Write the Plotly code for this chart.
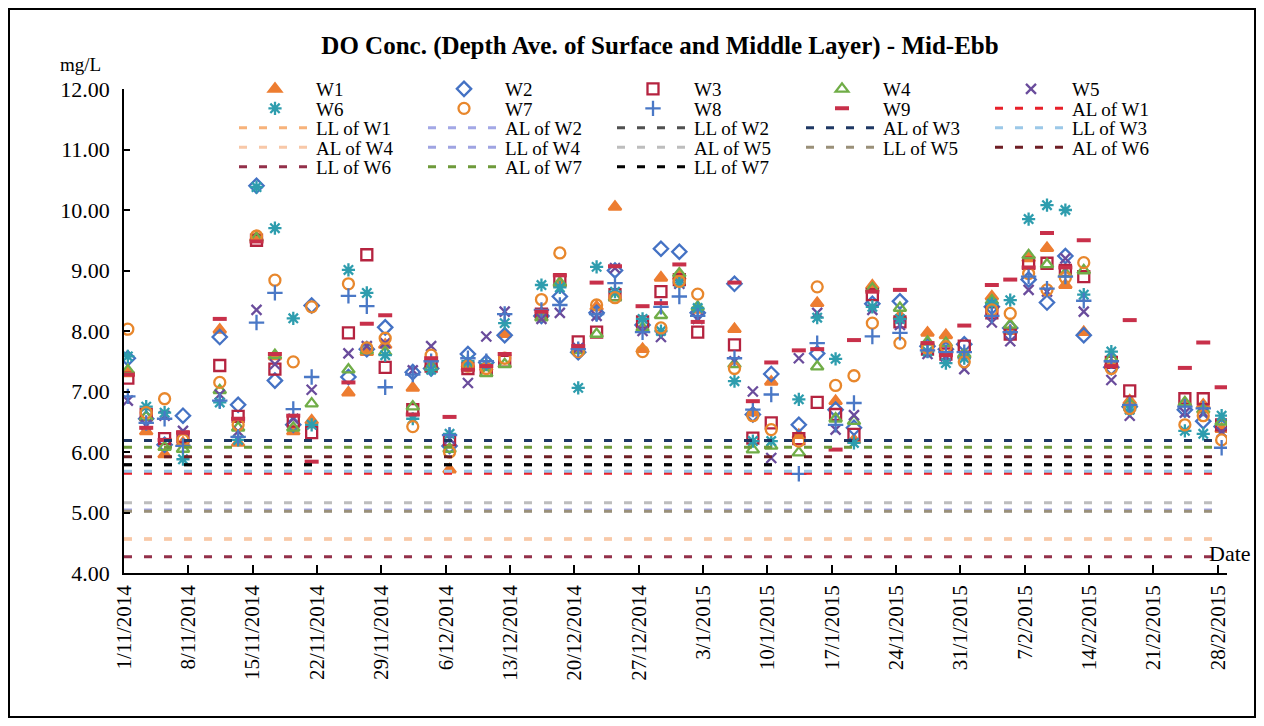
import plotly.graph_objects as go
from datetime import datetime, timedelta

# ---------------- DATA ----------------
sample_dates = [
    "2014-11-01", "2014-11-03", "2014-11-05", "2014-11-07", "2014-11-11", "2014-11-13",
    "2014-11-15", "2014-11-17", "2014-11-19", "2014-11-21", "2014-11-25", "2014-11-27",
    "2014-11-29", "2014-12-02", "2014-12-04", "2014-12-06", "2014-12-08", "2014-12-10",
    "2014-12-12", "2014-12-16", "2014-12-18", "2014-12-20", "2014-12-22", "2014-12-24",
    "2014-12-27", "2014-12-29", "2014-12-31", "2015-01-02", "2015-01-06", "2015-01-08",
    "2015-01-10", "2015-01-13", "2015-01-15", "2015-01-17", "2015-01-19", "2015-01-21",
    "2015-01-24", "2015-01-27", "2015-01-29", "2015-01-31", "2015-02-03", "2015-02-05",
    "2015-02-07", "2015-02-09", "2015-02-11", "2015-02-13", "2015-02-16", "2015-02-18",
    "2015-02-24", "2015-02-26", "2015-02-28",
]
sample_time = "10:00"

W1 = [7.30, 6.34, 5.96, 6.15, 8.02, 6.15, 9.55, 7.58, 6.34, 6.52, 6.98, 7.65, 7.77, 7.06, 7.45, 5.71, 7.45,
      7.40, 7.95, 8.30, 8.78, 7.70, 8.40, 10.05, 7.70, 8.88, 8.90, 8.35, 8.03, 6.65, 7.16, 6.28, 8.46, 6.84,
      6.20, 8.75, 8.25, 7.97, 7.93, 7.60, 8.57, 8.00, 9.20, 9.37, 8.76, 7.98, 7.45, 6.85, 6.80, 6.78, 6.38]
W2 = [7.55, 6.55, 6.12, 6.60, 7.90, 6.78, 10.40, 7.18, 6.45, 8.42, 7.24, 7.70, 8.06, 7.32, 7.38, 6.10, 7.62,
      7.48, 7.93, 8.25, 8.57, 7.65, 8.30, 9.00, 8.10, 9.36, 9.31, 8.30, 8.78, 6.62, 7.29, 6.45, 7.63, 6.70,
      6.40, 8.45, 8.49, 7.75, 7.70, 7.78, 8.40, 8.05, 8.85, 8.47, 9.24, 7.93, 7.40, 6.75, 6.70, 6.51, 6.42]
W3 = [7.22, 6.62, 6.22, 6.25, 7.43, 6.59, 9.50, 7.37, 6.51, 6.32, 7.97, 9.26, 7.40, 6.70, 7.42, 6.20, 7.38,
      7.35, 7.50, 8.28, 8.85, 7.82, 7.98, 8.60, 8.15, 8.65, 8.85, 7.98, 7.77, 6.23, 6.48, 6.22, 6.82, 6.62,
      6.29, 8.60, 8.15, 7.70, 7.62, 7.75, 8.30, 7.95, 9.12, 9.12, 9.00, 8.90, 7.48, 7.01, 6.88, 6.88, 6.45]
W4 = [7.35, 6.58, 6.08, 6.05, 7.02, 6.40, 9.53, 7.60, 6.40, 6.80, 7.36, 7.68, 7.65, 6.75, 7.40, 6.05, 7.40,
      7.30, 7.45, 8.22, 8.80, 7.68, 7.95, 8.55, 8.05, 8.26, 8.95, 8.40, 7.45, 6.04, 6.10, 5.99, 7.41, 6.55,
      6.51, 8.70, 8.38, 7.82, 7.80, 7.62, 8.50, 8.10, 9.25, 9.10, 8.95, 9.00, 7.55, 6.80, 6.82, 6.70, 6.50]
W5 = [6.85, 6.45, 6.60, 6.35, 6.95, 6.34, 8.35, 7.45, 6.55, 7.03, 7.63, 7.75, 7.80, 7.35, 7.75, 6.22, 7.14,
      7.91, 8.32, 8.20, 8.30, 7.72, 8.25, 9.04, 8.00, 7.90, 8.78, 8.20, 7.50, 7.00, 5.90, 7.55, 8.30, 6.37,
      6.61, 8.35, 8.10, 7.62, 7.58, 7.37, 8.14, 7.83, 8.68, 8.65, 9.20, 8.32, 7.19, 6.60, 6.65, 6.65, 6.33]
W6 = [7.58, 6.75, 6.65, 5.88, 6.82, 6.20, 10.38, 9.70, 8.21, 6.45, 9.01, 8.63, 7.60, 6.55, 7.36, 6.30, 7.50,
      7.45, 8.13, 8.76, 8.72, 7.06, 9.06, 8.65, 8.20, 8.00, 8.80, 8.38, 7.17, 6.18, 6.18, 6.87, 8.22, 7.54,
      6.15, 8.40, 8.20, 7.66, 7.47, 7.55, 8.45, 8.51, 9.85, 10.08, 10.00, 8.60, 7.66, 6.70, 6.35, 6.30, 6.60]
W7 = [8.03, 6.65, 6.88, 6.20, 7.15, 6.45, 9.57, 8.84, 7.49, 8.40, 8.78, 7.72, 7.88, 6.42, 7.60, 6.00, 7.42,
      7.38, 7.55, 8.52, 9.29, 7.66, 8.43, 8.55, 7.66, 8.05, 8.82, 8.61, 7.38, 6.60, 6.37, 6.18, 8.73, 7.10,
      7.26, 8.13, 7.80, 7.72, 7.74, 7.49, 8.35, 8.29, 8.95, 8.68, 8.88, 9.13, 7.38, 6.72, 6.45, 6.60, 6.20]
W8 = [6.92, 6.48, 6.55, 6.10, 6.85, 6.25, 8.14, 8.63, 6.71, 7.24, 8.58, 8.41, 7.07, 7.28, 7.50, 6.28, 7.55,
      7.50, 8.28, 8.35, 8.43, 7.70, 8.28, 8.79, 7.98, 8.40, 8.57, 8.25, 7.55, 6.70, 6.95, 5.64, 7.80, 6.45,
      6.81, 7.91, 7.97, 7.68, 7.65, 7.65, 8.25, 7.98, 8.90, 8.70, 8.90, 8.50, 7.50, 6.78, 6.75, 6.72, 6.07]
W9 = [7.28, 6.40, 6.20, 6.32, 8.20, 6.55, 9.48, 7.62, 6.60, 5.84, 7.15, 8.12, 8.26, 6.62, 7.55, 6.58, 7.36,
      7.42, 7.62, 8.32, 8.92, 7.75, 8.80, 9.07, 8.41, 8.46, 9.10, 8.15, 8.80, 6.84, 7.48, 7.68, 7.70, 6.04,
      7.85, 8.65, 8.68, 7.80, 7.60, 8.09, 8.76, 8.85, 9.05, 9.62, 9.05, 9.50, 7.42, 8.18, 7.39, 7.81, 7.07]

station_names = ["W1", "W2", "W3", "W4", "W5", "W6", "W7", "W8", "W9"]
station_values = [W1, W2, W3, W4, W5, W6, W7, W8, W9]

level_names = ["AL of W1", "LL of W1", "AL of W2", "LL of W2", "AL of W3", "LL of W3", "AL of W4",
               "LL of W4", "AL of W5", "LL of W5", "AL of W6", "LL of W6", "AL of W7", "LL of W7"]
level_values = [5.65, 4.56, 5.04, 5.79, 6.19, 5.68, 4.56, 5.03, 5.16, 5.02, 5.92, 4.27, 6.08, 5.79]

tick_start = "2014-11-01"
tick_count = 18
tick_step_days = 7

title_text = "DO Conc. (Depth Ave. of Surface and Middle Layer) - Mid-Ebb"

# ---------------- STYLE ----------------
FONT = "Liberation Serif, Times New Roman, serif"
station_styles = [
    dict(symbol="triangle-up", color="#ED7D31", size=11),
    dict(symbol="diamond-open", color="#4472C4", size=11),
    dict(symbol="square-open", color="#B5233F", size=11),
    dict(symbol="triangle-up-open", color="#70AD47", size=11),
    dict(symbol="x-thin-open", color="#6A4C9C", size=10),
    dict(symbol="asterisk-open", color="#2E9DAE", size=11),
    dict(symbol="circle-open", color="#E8872C", size=11),
    dict(symbol="cross-thin-open", color="#4A78C6", size=11),
    dict(symbol="line-ew-open", color="#C8304A", size=10),
]
level_colors = ["#E8202A", "#F7B27A", "#A3A8E6", "#505050", "#1F3864", "#9BC8E8", "#F8C8A8",
                "#9FA4E2", "#BDBDBD", "#9A9078", "#6E1E24", "#93304A", "#6E9A3A", "#000000"]

# page is offset 8px by the body margin -> figure is 16px smaller than the window
W, H = 1248, 710
L, T = 116, 81
R, B = W - 1219, H - 565
pw, ph = W - L - R, H - T - B


def px(xf):
    return (xf - L) / pw


def py(yf):
    return 1 - (yf - T) / ph


x_dates = [f"{d} {sample_time}" for d in sample_dates]
line_x = sample_dates

legend_ids = ["legend", "legend2", "legend3", "legend4", "legend5"]
fig = go.Figure()
idx = 0
for name, vals, st in zip(station_names, station_values, station_styles):
    fig.add_trace(go.Scatter(
        x=x_dates, y=vals, mode="markers", name=name, legend=legend_ids[idx // 5],
        marker=dict(symbol=st["symbol"], color=st["color"], size=st["size"],
                    line=dict(color=st["color"], width=2.3 if st["symbol"] != "line-ew-open" else 4)),
    ))
    idx += 1
for name, val, col in zip(level_names, level_values, level_colors):
    fig.add_trace(go.Scatter(
        x=line_x, y=[val] * len(line_x), mode="lines", name=name, legend=legend_ids[idx // 5],
        line=dict(color=col, width=3, dash="8px,12px"),
    ))
    idx += 1

t0 = datetime.strptime(tick_start, "%Y-%m-%d")
tick_dates = [t0 + timedelta(days=tick_step_days * i) for i in range(tick_count)]
tickvals = [d.strftime("%Y-%m-%d") for d in tick_dates]
ticktext = [f"{d.day}/{d.month}/{d.year}" for d in tick_dates]

row_y = [81, 100.5, 120, 139.5, 159]
legend_common = dict(orientation="h", entrywidth=102, entrywidthmode="pixels",
                     x=px(226), xanchor="left", yanchor="middle",
                     bgcolor="rgba(0,0,0,0)", font=dict(family=FONT, size=19),
                     tracegroupgap=0, itemwidth=72)
legend_layout = {lid: dict(legend_common, y=py(ry)) for lid, ry in zip(legend_ids, row_y)}

fig.update_layout(
    width=W, height=H,
    margin=dict(l=L, r=R, t=T, b=B),
    paper_bgcolor="white", plot_bgcolor="white",
    font=dict(family=FONT, size=20, color="#000000"),
    title=dict(text="<b>" + title_text + "</b>", font=dict(family=FONT, size=25),
               x=px(652), xref="paper", xanchor="center",
               y=1 - 37 / H, yref="container", yanchor="middle"),
    showlegend=True,
    xaxis=dict(type="date", range=["2014-11-01", "2015-03-01"],
               tickvals=tickvals, ticktext=ticktext, tickangle=-90,
               ticks="inside", ticklen=8, tickcolor="black", tickwidth=1.5,
               showline=True, linecolor="black", linewidth=1.5, showgrid=False, zeroline=False,
               tickfont=dict(family=FONT, size=21), ticklabelstandoff=2),
    yaxis=dict(range=[4, 12], dtick=1, tickformat=".2f",
               ticks="inside", ticklen=6, tickcolor="black", tickwidth=1.5,
               showline=True, linecolor="black", linewidth=1.5, showgrid=False, zeroline=False,
               tickfont=dict(family=FONT, size=22), ticklabelstandoff=8),
    annotations=[
        dict(text="mg/L", xref="paper", yref="paper", x=px(72), y=py(57),
             showarrow=False, font=dict(family=FONT, size=19), xanchor="center", yanchor="middle"),
        dict(text="Date", xref="paper", yref="paper", x=px(1222), y=py(545),
             showarrow=False, font=dict(family=FONT, size=22), xanchor="center", yanchor="middle"),
    ],
    shapes=[
        dict(type="rect", xref="paper", yref="paper",
             x0=px(1), x1=px(W - 1), y0=py(H - 1), y1=py(1),
             line=dict(color="black", width=2), fillcolor="rgba(0,0,0,0)", layer="below"),
    ],
    **legend_layout,
)

fig.write_html("out.html")
